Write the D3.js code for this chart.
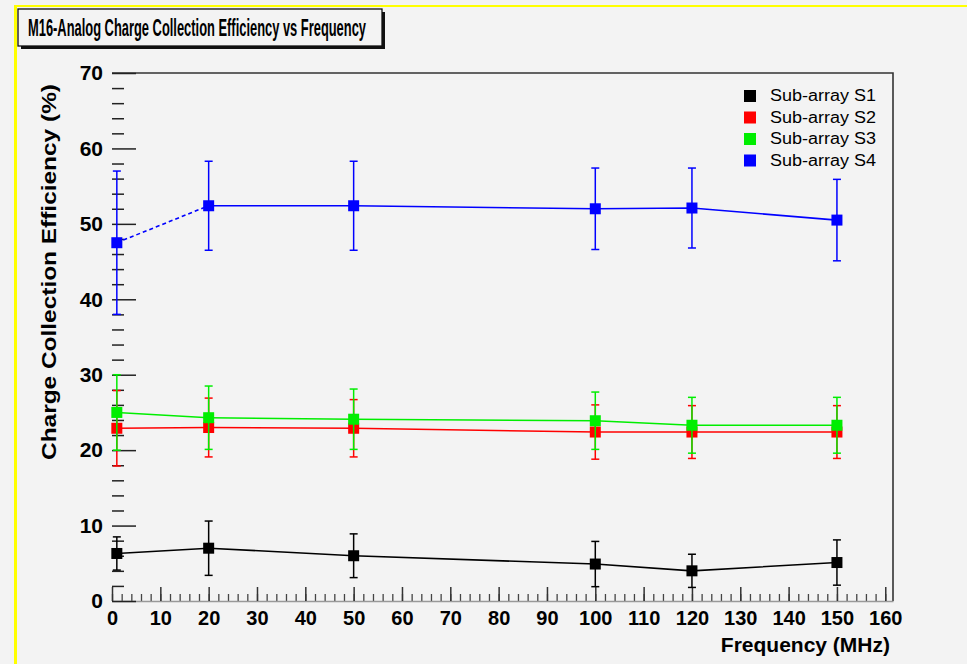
<!DOCTYPE html>
<html>
<head>
<meta charset="utf-8">
<script src="https://cdn.jsdelivr.net/npm/d3@7"></script>
<style>
  body { margin: 0; background: #f3f3f3; }
  svg { display: block; }
  text { font-family: "Liberation Sans", Arial, Helvetica, sans-serif; }
</style>
</head>
<body>
<script>
var width = 967, height = 664;

// frequencies (MHz)
var freq = [1, 20, 50, 100, 120, 150];

// efficiency (%) and errors for each sub-array
var s1 = [6.3, 7.0, 6.0, 4.9, 4.0, 5.1];
var e1 = [2.2, 3.6, 2.9, 3.0, 2.2, 3.0];
var s2 = [22.9, 23.0, 22.9, 22.4, 22.4, 22.4];
var e2 = [5.0, 3.9, 3.8, 3.6, 3.5, 3.5];
var s3 = [25.0, 24.3, 24.1, 23.9, 23.3, 23.3];
var e3 = [5.0, 4.2, 4.0, 3.8, 3.7, 3.7];
var s4 = [47.5, 52.4, 52.4, 52.0, 52.1, 50.5];
var e4 = [9.5, 5.9, 5.9, 5.4, 5.3, 5.4];

var seriesNames = ["Sub-array S1", "Sub-array S2", "Sub-array S3", "Sub-array S4"];
var seriesColors = ["#000000", "#ff0000", "#00ee00", "#0000ff"];
var xTicks = d3.range(0, 161, 10);
var yTicks = d3.range(0, 71, 10);

var series = [s1, s2, s3, s4].map(function (vals, i) {
    return {
        name: seriesNames[i],
        color: seriesColors[i],
        points: vals.map(function (v, j) {
            return { x: freq[j], y: v, err: [e1, e2, e3, e4][i][j] };
        })
    };
});

var svg = d3.select("body").append("svg")
    .attr("width", width)
    .attr("height", height);

svg.append("rect").attr("width", width).attr("height", height).attr("fill", "#f3f3f3");

// yellow canvas border
svg.append("line").attr("x1", 15).attr("x2", width).attr("y1", 6).attr("y2", 6)
    .attr("stroke", "#ffff00").attr("stroke-width", 2);
svg.append("line").attr("x1", 15.5).attr("x2", 15.5).attr("y1", 5).attr("y2", height)
    .attr("stroke", "#ffff00").attr("stroke-width", 3);

// title box with shadow
svg.append("rect").attr("x", 21).attr("y", 12).attr("width", 364).attr("height", 37)
    .attr("fill", "#111");
svg.append("rect").attr("x", 18).attr("y", 9).attr("width", 364).attr("height", 37)
    .attr("fill", "#f3f3f3").attr("stroke", "#111").attr("stroke-width", 1.3);
svg.append("text").attr("x", 197).attr("y", 36)
    .attr("text-anchor", "middle")
    .attr("font-size", 23).attr("font-weight", "bold")
    .attr("textLength", 338).attr("lengthAdjust", "spacingAndGlyphs")
    .text("M16-Analog Charge Collection Efficiency vs Frequency");

var x = d3.scaleLinear().domain([0, 161.6]).range([112, 893]);
var y = d3.scaleLinear().domain([0, 70]).range([601, 73]);

// frame (top + right)
svg.append("path")
    .attr("d", "M" + x(0) + "," + y(70) + "H" + x(161.6) + "V" + y(0))
    .attr("fill", "none").attr("stroke", "#333").attr("stroke-width", 1.6);

// x axis
var gx = svg.append("g").attr("transform", "translate(0," + y(0) + ")");
gx.call(d3.axisBottom(x).tickValues(d3.range(0, 161, 2)).tickSizeInner(-7).tickSizeOuter(0).tickFormat(""));
gx.call(function (g) { g.selectAll("line").attr("stroke", "#444").attr("stroke-width", 1.3); });
var gx2 = svg.append("g").attr("transform", "translate(0," + y(0) + ")");
gx2.call(d3.axisBottom(x).tickValues(xTicks).tickSizeInner(-14).tickSizeOuter(0).tickPadding(10).tickFormat(d3.format("d")));
gx2.select(".domain").attr("stroke", "#999").attr("stroke-width", 1.3);
gx.select(".domain").remove();
gx2.selectAll("line").attr("stroke", "#333").attr("stroke-width", 1.5);
gx2.selectAll("text").attr("font-size", 20).attr("font-weight", "bold").attr("fill", "#000")
    .attr("font-family", "Liberation Sans, Arial, sans-serif");

// y axis
var gy = svg.append("g").attr("transform", "translate(" + x(0) + ",0)");
gy.call(d3.axisLeft(y).tickValues(d3.range(0, 71, 2).filter(function (d) { return d % 10; }))
    .tickSizeInner(-12).tickSizeOuter(0).tickFormat(""));
gy.select(".domain").remove();
gy.selectAll("line").attr("stroke", "#222").attr("stroke-width", 1.5);
var gy2 = svg.append("g").attr("transform", "translate(" + x(0) + ",0)");
gy2.call(d3.axisLeft(y).tickValues(yTicks).tickSizeInner(-24).tickSizeOuter(0).tickPadding(9));
gy2.select(".domain").remove();
gy2.selectAll("line").attr("stroke", "#222").attr("stroke-width", 1.5);
gy2.selectAll("text").attr("font-size", 21).attr("font-weight", "bold").attr("fill", "#000")
    .attr("font-family", "Liberation Sans, Arial, sans-serif");

// axis titles
svg.append("text")
    .attr("transform", "translate(56,272) rotate(-90)")
    .attr("text-anchor", "middle")
    .attr("font-size", 21).attr("font-weight", "bold")
    .attr("textLength", 376).attr("lengthAdjust", "spacingAndGlyphs")
    .text("Charge Collection Efficiency (%)");
svg.append("text")
    .attr("x", 890).attr("y", 652)
    .attr("text-anchor", "end")
    .attr("font-size", 21).attr("font-weight", "bold")
    .text("Frequency (MHz)");

// data
var line = d3.line().x(function (d) { return x(d.x); }).y(function (d) { return y(d.y); });

var gs = svg.selectAll(".series").data(series).enter().append("g").attr("class", "series");

gs.append("path")
    .attr("d", function (d) { return line(d.points.slice(1)); })
    .attr("fill", "none")
    .attr("stroke", function (d) { return d.color; })
    .attr("stroke-width", 1.6);

// first segment: dashed for S4, solid for the rest
gs.append("path")
    .attr("d", function (d) { return line(d.points.slice(0, 2)); })
    .attr("fill", "none")
    .attr("stroke", function (d) { return d.color; })
    .attr("stroke-width", 1.6)
    .attr("stroke-dasharray", function (d, i) { return i === 3 ? "4,3" : null; });

gs.each(function (s) {
    var g = d3.select(this);
    var pts = g.selectAll(".pt").data(s.points).enter().append("g").attr("class", "pt");
    pts.append("line")
        .attr("x1", function (d) { return x(d.x); }).attr("x2", function (d) { return x(d.x); })
        .attr("y1", function (d) { return y(d.y + d.err); }).attr("y2", function (d) { return y(d.y - d.err); })
        .attr("stroke", s.color).attr("stroke-width", 1.5);
    [1, -1].forEach(function (sign) {
        pts.append("line")
            .attr("x1", function (d) { return x(d.x) - 4; }).attr("x2", function (d) { return x(d.x) + 4; })
            .attr("y1", function (d) { return y(d.y + sign * d.err); })
            .attr("y2", function (d) { return y(d.y + sign * d.err); })
            .attr("stroke", s.color).attr("stroke-width", 1.5);
    });
    pts.append("rect")
        .attr("x", function (d) { return x(d.x) - 5.5; })
        .attr("y", function (d) { return y(d.y) - 5.5; })
        .attr("width", 11).attr("height", 11)
        .attr("fill", s.color);
});

// legend
var legend = svg.selectAll(".legend").data(series).enter().append("g")
    .attr("class", "legend")
    .attr("transform", function (d, i) { return "translate(744," + (90 + i * 21.5) + ")"; });
legend.append("rect").attr("width", 12).attr("height", 12)
    .attr("fill", function (d) { return d.color; });
legend.append("text").attr("x", 26).attr("y", 11)
    .attr("font-size", 16)
    .attr("textLength", 106).attr("lengthAdjust", "spacingAndGlyphs")
    .text(function (d) { return d.name; });
</script>
</body>
</html>
